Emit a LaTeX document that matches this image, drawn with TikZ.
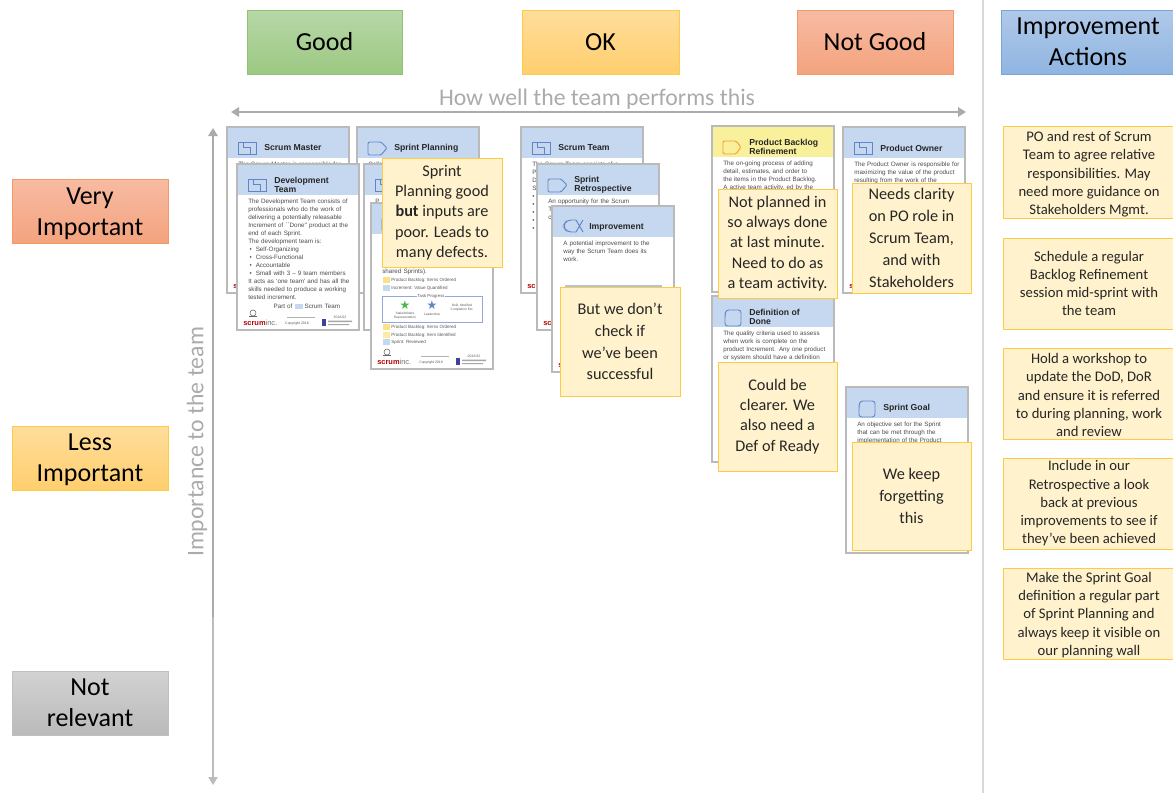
\documentclass[tikz,border=0pt]{standalone}
\usepackage{fontspec}
\setmainfont{Carlito}
\newfontfamily\cardfont{Liberation Sans}
\newfontfamily\symfont{DejaVu Sans}
\usetikzlibrary{arrows.meta}
\definecolor{notefill}{HTML}{FFF2CC}
\definecolor{noteline}{HTML}{FFCB45}
\definecolor{headblue}{HTML}{C6D8F0}
\definecolor{headyellow}{HTML}{F8F09A}
\definecolor{iconblue}{HTML}{5F86C8}
\definecolor{axisgray}{HTML}{ABABAB}
\definecolor{cardline}{HTML}{BABABA}
\definecolor{b1top}{HTML}{B7D7A8}\definecolor{b1bot}{HTML}{9CC982}\definecolor{b1line}{HTML}{8FC476}
\definecolor{b2top}{HTML}{FFDD9C}\definecolor{b2bot}{HTML}{FFCF6E}
\definecolor{b3top}{HTML}{F7BBA3}\definecolor{b3bot}{HTML}{F4A37E}\definecolor{b3line}{HTML}{F29A66}
\definecolor{b4top}{HTML}{B0C9E9}\definecolor{b4bot}{HTML}{8FB5E1}\definecolor{b4line}{HTML}{76A5DB}
\definecolor{b5top}{HTML}{D2D2D2}\definecolor{b5bot}{HTML}{BABABA}\definecolor{b5line}{HTML}{C0C0C0}
\tikzset{
  head/.style={inner sep=0pt,align=center,text=black,font=\fontsize{19.5}{23.2}\selectfont},
  greenhead/.style={head,draw=b1line,top color=b1top,bottom color=b1bot},
  okhead/.style={head,draw=noteline,top color=b2top,bottom color=b2bot},
  badhead/.style={head,draw=b3line,top color=b3top,bottom color=b3bot},
  bluehead/.style={head,draw=b4line,top color=b4top,bottom color=b4bot},
  grayhead/.style={head,draw=b5line,top color=b5top,bottom color=b5bot},
  note/.style={inner sep=0pt,align=center,draw=noteline,line width=0.6pt,fill=notefill,text=black!85,font=\fontsize{12.2}{15.2}\selectfont},
  widenote/.style={note,font=\fontsize{12.2}{16.4}\selectfont},
  action/.style={inner sep=0pt,align=center,draw=noteline,line width=0.6pt,fill=notefill,text=black!85,font=\fontsize{11}{13.7}\selectfont},
  cardbox/.style={draw=cardline,line width=0.8pt,fill=white,inner sep=0pt},
  axis/.style={draw=axisgray,line width=1.5pt,{Triangle[length=6pt,width=7pt]}-{Triangle[length=6pt,width=7pt]}},
  axislabel/.style={text=axisgray,font=\fontsize{17.8}{20}\selectfont},
  cardtitle/.style={anchor=west,inner sep=0pt,align=left,text=black!85,font=\cardfont\bfseries\fontsize{6.5}{6.5}\selectfont},
  cardbody/.style={anchor=north west,inner sep=0pt,text width=88pt,align=left,text=black!70,font=\cardfont\fontsize{4.7}{5.95}\selectfont},
  icon/.style={draw=iconblue,line width=0.7pt},
  foot/.style={inner sep=0pt,text=black!65,font=\cardfont\fontsize{2.6}{3}\selectfont},
  smalltext/.style={foot,anchor=west,font=\cardfont\fontsize{3.4}{4}\selectfont},
  tinytext/.style={foot,align=center,font=\cardfont\fontsize{2.4}{2.8}\selectfont},
  redmark/.style={inner sep=0pt,anchor=west,text=red!70!black,font=\cardfont\bfseries\fontsize{5.6}{6}\selectfont},
}
% \pxbox{style}{name}{x1}{y1}{x2}{y2}{text}
\newcommand\pxbox[7]{%
  \pgfmathsetmacro\pxw{(#5-#3)*0.75}\pgfmathsetmacro\pxh{(#6-#4)*0.75}%
  \node[#1,minimum width=\pxw pt,minimum height=\pxh pt] (#2) at ({(#3+#5)/2},{(#4+#6)/2}) {#7};}
\newcommand\iconrole{\draw[icon] (11,15) rectangle (29,27) (16,15) -- (16,20) -- (23,20) -- (23,27);}
\newcommand\iconevent{\draw[icon,rounded corners=1pt] (11,15) -- (24,15) -- (30,21) -- (24,28) -- (11,28) -- cycle;}
\newcommand\iconartifact{\draw[icon,rounded corners=2pt] (14,14) -- (29,14) -- (29,30) -- (13,30) -- (13,19) -- cycle;}
\newcommand\iconimprove{\draw[icon,rounded corners=3pt] (24,14) -- (15,14) -- (11,20) -- (15,26) -- (24,26);\draw[icon] (24,14) -- (31,26) (31,14) -- (24,26);}
% \card{name}{x}{y}{head colour}{icon}{title}{body}
\newcommand\card[7]{%
  \pxbox{cardbox}{#1}{#2}{#3}{#2+122}{#3+166}{}
  \begin{scope}[shift={(#2,#3)}]
    \fill[#4] (0.7,1) rectangle (121.3,31);
    #5
    \node[cardtitle] (#1-t) at (37,21) {#6};
    \node[cardbody] (#1-b) at (11,35) {#7};
  \end{scope}}
% red mark of a card, peeking out behind what lies on it
\newcommand\cardred[3]{\begin{scope}[shift={(#2,#3)}]
    \node[redmark] (#1-s) at (6,159) {scrum\textcolor{black!55}{\mdseries inc.}};
  \end{scope}}
% whole footer
\newcommand\cardfoot[3]{\cardred{#1}{#2}{#3}\begin{scope}[shift={(#2,#3)}]
    \draw[black!60,line width=0.4pt] (16,149) circle (3);
    \draw[black!60,line width=0.4pt] (12,152) -- (20,152);
    \draw[black!30,line width=0.3pt] (50,153) -- (78,153);
    \node[foot] (#1-c) at (60,160) {Copyright 2018};
    \node[foot] (#1-d) at (103,153) {2018.02};
    \fill[blue!50!black!75] (85,155) rectangle (89,162);
    \fill[black!35] (91,156.5) rectangle (115,158) (91,160) rectangle (112,161);
  \end{scope}}
\begin{document}
\begin{tikzpicture}[x=0.75pt,y=-0.75pt]
\useasboundingbox (0,0) rectangle (1173,793);
\fill[white] (0,0) rectangle (1173,793);

% column and row headings
\pxbox{greenhead}{good}{247}{10}{402}{74}{Good}
\pxbox{okhead}{ok}{522}{10}{679}{74}{OK}
\pxbox{badhead}{notgood}{797}{10}{953}{74}{Not Good}
\pxbox{bluehead}{actions}{1001}{10}{1175}{74}{Improvement\\Actions}
\pxbox{badhead}{very}{12}{179}{168}{243}{\rule{0pt}{17pt}Very\\Important}
\pxbox{okhead}{less}{12}{426}{168}{490}{\rule{0pt}{15pt}Less\\Important}
\pxbox{grayhead}{notrel}{12}{671}{168}{735}{Not\\relevant}

% divider
\coordinate (divtop) at (983,0);
\coordinate (divbot) at (983,793);
\draw[black!15,line width=1pt] (divtop) -- (divbot);

% axes
\coordinate (hleft) at (231,112);
\coordinate (hright) at (966,112);
\draw[axis] (hleft) -- (hright);
\node[axislabel] (hlabel) at (597,99) {How well the team performs this};
\coordinate (vtop) at (213,128);
\coordinate (vmid) at (213,617);
\coordinate (vbot) at (213,785);
\draw[axisgray,line width=1.5pt,{Triangle[length=6pt,width=7pt]}-] (vtop) -- (vmid);
\draw[axisgray!80,line width=0.8pt,-{Triangle[length=6pt,width=7pt]}] (vmid) -- (vbot);
\node[axislabel,rotate=90] (vlabel) at (197,442) {Importance to the team};

% Good column
\card{sm}{227}{127}{headblue}{\iconrole}{Scrum Master}{The Scrum Master is responsible for}
\cardred{sm}{227}{127}
\card{sp}{357}{127}{headblue}{\iconevent}{Sprint Planning}{Collaborative}
\cardred{sp}{357}{127}
\card{dev}{237}{164}{headblue}{\iconrole}{Development\\Team}{The Development Team consists of\\
professionals who do the work of\\
delivering a potentially releasable\\
Increment of ``Done'' product at the\\
end of each Sprint.\\
The development team is:\\
\hspace*{1pt}•\hspace{3pt}Self-Organizing\\
\hspace*{1pt}•\hspace{3pt}Cross-Functional\\
\hspace*{1pt}•\hspace{3pt}Accountable\\
\hspace*{1pt}•\hspace{3pt}Small with 3 – 9 team members\\
It acts as ‘one team’ and has all the\\
skills needed to produce a working\\
tested increment.\\[1.5pt]
\hspace*{19pt}Part of \textcolor{headblue}{\rule{6pt}{4pt}} Scrum Team}
\cardfoot{dev}{237}{164}
\card{sp2}{364}{164}{headblue}{\iconrole}{}{P}
\card{sp3}{371}{203}{headblue}{\iconevent}{}{}
\begin{scope}[shift={(371,203)}]
  \node[cardbody] (sp3-line) at (11,66) {shared Sprints).};
  \fill[yellow!55!orange!45] (12,74) rectangle (19,80);
  \node[smalltext] (sp3-i1) at (20,77) {Product Backlog: Items Ordered};
  \fill[headblue] (12,82) rectangle (19,88);
  \node[smalltext] (sp3-i2) at (20,85) {Increment: Value Quantified};
  \draw[iconblue!70,line width=0.5pt] (11,93) rectangle (111,119);
  \node[inner sep=0.6pt,fill=white,foot,font=\cardfont\fontsize{3.2}{4}\selectfont] (sp3-tp) at (60,93) {Task Progress};
  \node[inner sep=0pt,text=green!60!black!70,font=\symfont\fontsize{9}{9}\selectfont] (sp3-s1) at (34,102) {★};
  \node[inner sep=0pt,text=iconblue,font=\symfont\fontsize{9}{9}\selectfont] (sp3-s2) at (61,102) {★};
  \node[tinytext] (sp3-a) at (34,112.5) {Stakeholders\\Representation};
  \node[tinytext] (sp3-b) at (61,112) {Leadership};
  \node[tinytext] (sp3-e) at (91,105) {DoD, Modified\\Completion Est.};
  \fill[yellow!55!orange!45] (12,121) rectangle (19,127);
  \node[smalltext] (sp3-i3) at (20,124) {Product Backlog: Items Ordered};
  \fill[yellow!60!orange!35] (12,129) rectangle (19,135);
  \node[smalltext] (sp3-i4) at (20,132) {Product Backlog: Item Identified};
  \fill[headblue] (12,136) rectangle (19,142);
  \node[smalltext] (sp3-i5) at (20,139) {Sprint: Reviewed};
\end{scope}
\cardfoot{sp3}{371}{203}
\pxbox{note}{n1}{382}{158}{502}{267}{Sprint\\Planning good\\\textbf{but} inputs are\\poor. Leads to\\many defects.}

% OK column
\card{st}{521}{127}{headblue}{\iconrole}{Scrum Team}{The Scrum Team consists of a\\Product Owner, the\\Development Team and a\\Scrum Master.\\•\\•\\•\\•\\•}
\cardred{st}{521}{127}
\card{re}{537}{164}{headblue}{\iconevent}{Sprint\\Retrospective}{An opportunity for the Scrum\\Team to inspect itself and\\create a plan for improvements}
\cardred{re}{537}{164}
\card{im}{552}{206}{headblue}{\iconimprove}{Improvement}{A potential improvement to the\\way the Scrum Team does its\\work.}
\cardred{im}{552}{206}
\fill[iconblue!50] (565,285) rectangle (662,292);
\pxbox{widenote}{n2}{560}{287}{680}{396}{But we don’t\\check if\\we’ve been\\successful}

% Not good column
\card{pbr}{712}{126}{headyellow}{\draw[icon,draw=orange!80,rounded corners=1pt] (11,15) -- (24,15) -- (29,21) -- (24,28) -- (11,28) -- cycle;}{Product Backlog\\Refinement}{The on-going process of adding\\detail, estimates, and order to\\the items in the Product Backlog.\\A active team activity, ed by the}
\card{po}{843}{127}{headblue}{\iconrole}{Product Owner}{The Product Owner is responsible for\\maximizing the value of the product\\resulting from the work of the}
\cardred{po}{843}{127}
\card{dod}{712}{296}{headblue}{\iconartifact}{Definition of\\Done}{The quality criteria used to assess\\when work is complete on the\\product Increment. Any one product\\or system should have a definition}
\card{sg}{846}{387}{headblue}{\iconartifact}{Sprint Goal}{An objective set for the Sprint\\that can be met through the\\implementation of the Product}
\pxbox{note}{n3}{718}{189}{837}{298}{Not planned in\\so always done\\at last minute.\\Need to do as\\a team activity.}
\pxbox{widenote}{n4}{852}{183}{971}{293}{Needs clarity\\on PO role in\\Scrum Team,\\and with\\Stakeholders}
\pxbox{note}{n5}{718}{362}{837}{471}{Could be\\clearer. We\\also need a\\Def of Ready}
\pxbox{widenote}{n6}{852}{442}{971}{550}{We keep\\forgetting\\this}

% actions
\pxbox{action}{a1}{1003}{126}{1175}{218}{\rule{0pt}{11pt}PO and rest of Scrum\\Team to agree relative\\responsibilities. May\\need more guidance on\\Stakeholders Mgmt.}
\pxbox{action}{a2}{1003}{238}{1175}{329}{Schedule a regular\\Backlog Refinement\\session mid-sprint with\\the team}
\pxbox{action}{a3}{1003}{348}{1175}{439}{\rule{0pt}{10pt}Hold a workshop to\\update the DoD, DoR\\and ensure it is referred\\to during planning, work\\and review}
\pxbox{action}{a4}{1003}{458}{1175}{549}{Include in our\\Retrospective a look\\back at previous\\improvements to see if\\they’ve been achieved}
\pxbox{action}{a5}{1003}{568}{1175}{659}{\rule{0pt}{10pt}Make the Sprint Goal\\definition a regular part\\of Sprint Planning and\\always keep it visible on\\our planning wall}
\end{tikzpicture}
\end{document}
